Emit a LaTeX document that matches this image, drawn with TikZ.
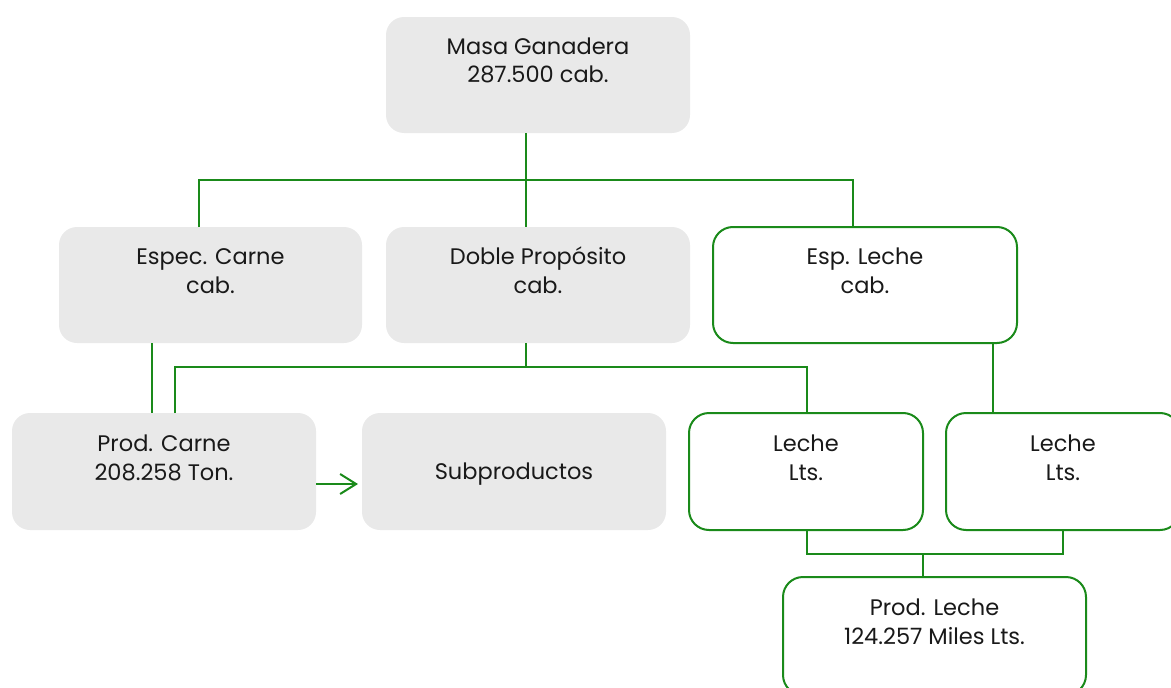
\documentclass[tikz,border=0pt]{standalone}
\usepackage{fontspec}
\setmainfont{Poppins}
\usetikzlibrary{arrows.meta}
\definecolor{lgreen}{RGB}{26,138,26}
\definecolor{lgray}{RGB}{233,233,233}
\definecolor{ltext}{RGB}{25,25,25}
\newcommand{\boxtext}[4]{\parbox[c][#1pt][t]{#2pt}{\centering\fontsize{22.5}{29}\selectfont\rule{0pt}{#3pt}#4}}
\tikzset{
  graybox/.style={fill=lgray, draw=none, rounded corners=18pt, inner sep=0pt, outer sep=0pt, anchor=north west, text=ltext},
  greenbox/.style={fill=white, draw=lgreen, line width=2pt, rounded corners=20pt, inner sep=0pt, outer sep=0pt, anchor=north west, text=ltext},
  conn/.style={draw=lgreen, line width=2pt},
}
\begin{document}
\begin{tikzpicture}[x=1pt,y=-1pt]
\useasboundingbox (0,0) rectangle (1171,688);
\clip (0,0) rectangle (1171,688);
\node[graybox] (masa) at (386,17) {\boxtext{116}{304}{37}{Masa Ganadera\\287.500 cab.}};
\node[graybox] (carne) at (59,227) {\boxtext{116}{303}{37}{Espec. Carne\\cab.}};
\node[graybox] (doble) at (386,227) {\boxtext{116}{304}{37}{Doble Propósito\\cab.}};
\node[greenbox] (lesp) at (713,227) {\boxtext{116}{304}{37}{Esp. Leche\\cab.}};
\node[graybox] (pcarne) at (12,413) {\boxtext{117}{304}{38}{Prod. Carne\\208.258 Ton.}};
\node[graybox] (subp) at (362,413) {\boxtext{117}{304}{66}{Subproductos}};
\node[greenbox] (leche1) at (689,413) {\boxtext{117}{234}{38}{Leche\\Lts.}};
\node[greenbox] (leche2) at (946,413) {\boxtext{117}{234}{38}{Leche\\Lts.}};
\node[greenbox] (pleche) at (783,577) {\boxtext{118}{303}{38}{Prod. Leche\\124.257 Miles Lts.}};
% level 1
\coordinate (v1) at (526,0);
\coordinate (h1l) at (199,180);
\coordinate (h1r) at (853,180);
\draw[conn] (masa.south -| v1) -- (doble.north -| v1);
\draw[conn] (carne.north -| h1l) -- (h1l) -- (h1r) -- (lesp.north -| h1r);
% carne to prod carne
\coordinate (c1) at (152,0);
\draw[conn] (carne.south -| c1) -- (pcarne.north -| c1);
% doble
\coordinate (h2l) at (175,367);
\coordinate (h2r) at (807,367);
\draw[conn] (doble.south -| v1) -- (h2l -| v1);
\draw[conn] (pcarne.north -| h2l) -- (h2l) -- (h2r) -- (leche1.north -| h2r);
% esp leche
\coordinate (c3) at (993,0);
\draw[conn] (lesp.south -| c3) -- (leche2.north -| c3);
% leche to prod leche
\coordinate (h3l) at (807,554);
\coordinate (h3r) at (1063,554);
\coordinate (h3m) at (923,554);
\draw[conn] (leche1.south -| h3l) -- (h3l) -- (h3r) -- (leche2.south -| h3r);
\draw[conn] (h3m) -- (pleche.north -| h3m);
% arrow
\coordinate (ay) at (0,484);
\draw[conn, -{Straight Barb[length=16pt,width=20pt,line width=2pt]}, shorten >=4pt] (pcarne.east |- ay) -- (subp.west |- ay);
\end{tikzpicture}
\end{document}
